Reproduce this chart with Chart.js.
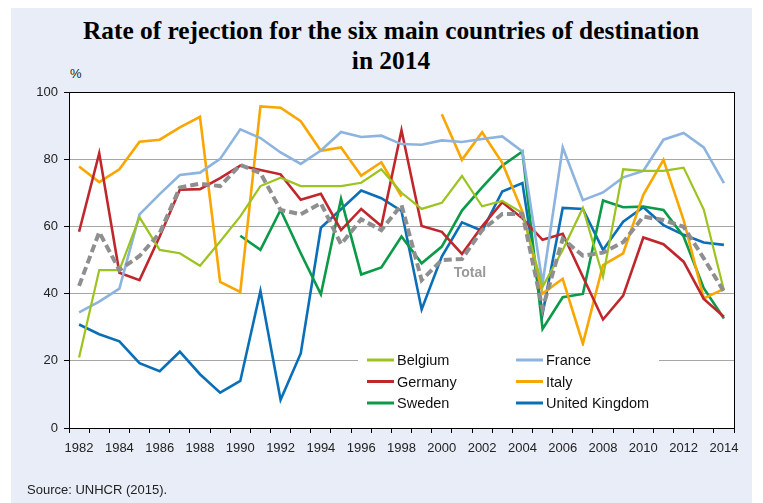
<!DOCTYPE html>
<html>
<head>
<meta charset="utf-8">
<script src="https://cdn.jsdelivr.net/npm/chart.js@4.4.1/dist/chart.umd.min.js"></script>
<style>
body { margin: 0; width: 763px; height: 503px; overflow: hidden; position: relative; background: #fff; font-family: "Liberation Sans", Arial, sans-serif; }
#panel { position: absolute; left: 11px; top: 8px; width: 741px; height: 495px; background: #e9edf8; }
#title { position: absolute; left: 0; top: 15px; width: 782px; text-align: center; font: bold 25.4px "Liberation Serif", "Times New Roman", serif; line-height: 30px; color: #000; }
#unit { position: absolute; left: 70px; top: 66px; font-size: 13px; color: #222; }
#source { position: absolute; left: 27px; top: 482px; font-size: 13px; color: #222; }
#chart { position: absolute; left: 0; top: 0; }
</style>
</head>
<body>
<div id="panel"></div>
<div id="title">Rate of rejection for the six main countries of destination<br>in 2014</div>
<div id="unit">%</div>
<canvas id="chart" width="763" height="503"></canvas>
<div id="source">Source: UNHCR (2015).</div>
<script>
// years on the x axis
var years = ['1982','1983','1984','1985','1986','1987','1988','1989','1990','1991','1992',
    '1993','1994','1995','1996','1997','1998','1999','2000','2001','2002','2003',
    '2004','2005','2006','2007','2008','2009','2010','2011','2012','2013','2014'];

// rejection rates, %
var belgium = [21, 47, 47, 62.7, 53, 52, 48.3, 55.5, 63, 72, 74.5, 72, 72, 72, 73, 77, 70,
    65.2, 67, 75, 66, 67.6, 64, 42, 53, 65.5, 45, 77, 76.5, 76.5, 77.5, 65, 41];
var france = [34.4, 37.6, 41.5, 63.6, 69.6, 75.3, 76, 80.1, 88.9, 86.3, 82, 78.6, 82.6, 88.1,
    86.6, 87, 84.5, 84.3, 85.6, 85.1, 86, 86.8, 82.3, 43, 83.5, 67.8, 70.1, 74.6, 76.5, 85.8,
    87.8, 83.5, 72.9];
var germany = [58.4, 81.8, 46.2, 44, 57, 70.9, 71.1, 74.4, 78.1, 76.8, 75.5, 67.9, 69.7, 58.9,
    65.2, 60.1, 88.6, 60.1, 58.4, 51.8, 60, 67.2, 62.4, 56, 57.8, 45, 32.3, 39.4, 56.7, 54.7,
    49.5, 38.4, 33.1];
var italy = [77.8, 73.2, 77, 85.2, 85.8, 89.5, 92.6, 43.5, 40.5, 95.7, 95.3, 91.3, 82.5, 83.5,
    75.1, 79.1, 68.9, null, 93.4, 79.8, 88, 78.9, 64.4, 40, 44.4, 25.1, 48.5, 52, 69.4, 79.8,
    61.9, 38.6, 41.4];
var sweden = [null, null, null, null, null, null, null, null, 57.2, 53, 64.9, 52, 39.8, 68.2,
    45.7, 47.8, 57, 49, 54, 64.7, 71.6, 78.1, 82.3, 29.5, 38.9, 39.9, 67.7, 65.7, 65.9, 64.9,
    57, 41.6, 32.6];
var uk = [30.8, 27.9, 25.8, 19.3, 16.9, 22.7, 16, 10.5, 14, 40.8, 8.4, 22.2, 59.6, 65.1, 70.7,
    68.4, 64.6, 35.3, 51, 61.2, 58.7, 70.4, 72.9, 34, 65.5, 65.2, 53, 61.4, 65.7, 60.4, 57.5,
    55.2, 54.5];
var total = [42.3, 58.3, 47, 51.2, 58, 71.6, 72.7, 72, 78.3, 75.9, 64.9, 63.6, 66.9, 54.7,
    62.1, 58.9, 66.4, 44, 50, 50.3, 58.9, 63.7, 63.7, 35.5, 56.3, 51.3, 52.2, 55.3, 62.9,
    61.9, 59.9, 50.5, 40.6];

var yTicks = [0, 20, 40, 60, 80, 100];

var series = [
    { label: 'Total', data: total, color: '#8f8f8f', width: 4, dash: [8, 4] },
    { label: 'Belgium', data: belgium, color: '#9cc31f', width: 2.2 },
    { label: 'France', data: france, color: '#8db3df', width: 2.6 },
    { label: 'Germany', data: germany, color: '#c0272d', width: 2.6 },
    { label: 'Italy', data: italy, color: '#f9a602', width: 2.6 },
    { label: 'Sweden', data: sweden, color: '#0b9a48', width: 2.6 },
    { label: 'United Kingdom', data: uk, color: '#0b6fb8', width: 2.6 }
];

// white plot area with black frame
var frame = {
    id: 'frame',
    beforeDraw: function(chart) {
        var a = chart.chartArea, ctx = chart.ctx;
        ctx.save();
        ctx.fillStyle = '#fff';
        ctx.fillRect(a.left, a.top, a.right - a.left, a.bottom - a.top);
        ctx.restore();
    },
    beforeDatasetsDraw: function(chart) {
        var a = chart.chartArea, ctx = chart.ctx;
        ctx.save();
        ctx.strokeStyle = '#000';
        ctx.lineWidth = 1;
        ctx.strokeRect(Math.round(a.left) + 0.5, Math.round(a.top) + 0.5,
            Math.round(a.right - a.left), Math.round(a.bottom - a.top));
        ctx.restore();
    }
};

// legend box inside the plot + "Total" label
var boxLegend = {
    id: 'boxLegend',
    afterDatasetsDraw: function(chart) {
        var ctx = chart.ctx;
        ctx.save();
        ctx.fillStyle = '#fff';
        ctx.fillRect(358, 346, 301, 72);
        var cols = [367, 516];
        var rows = [360, 381.5, 403];
        var items = series.slice(1);
        ctx.font = '14.5px "Liberation Sans", Arial, sans-serif';
        ctx.textBaseline = 'middle';
        items.forEach(function(s, i) {
            var x = cols[i % 2], y = rows[Math.floor(i / 2)];
            ctx.strokeStyle = s.color;
            ctx.lineWidth = 3;
            ctx.beginPath();
            ctx.moveTo(x, y);
            ctx.lineTo(x + 27, y);
            ctx.stroke();
            ctx.fillStyle = '#111';
            ctx.fillText(s.label, x + 30, y + 1);
        });
        var xs = chart.scales.x, ys = chart.scales.y;
        ctx.font = 'bold 14px "Liberation Sans", Arial, sans-serif';
        ctx.fillStyle = '#9a9a9a';
        ctx.fillText('Total', xs.getPixelForValue(18) + 12, ys.getPixelForValue(46));
        ctx.restore();
    }
};

new Chart(document.getElementById('chart'), {
    type: 'line',
    data: {
        labels: years,
        datasets: series.map(function(s) {
            return {
                label: s.label,
                data: s.data,
                borderColor: s.color,
                borderWidth: s.width,
                borderDash: s.dash || [],
                pointRadius: 0,
                tension: 0,
                spanGaps: false,
                fill: false
            };
        })
    },
    options: {
        responsive: false,
        animation: false,
        layout: { padding: { top: 92, right: 29, bottom: 35, left: 0 } },
        plugins: { legend: { display: false }, title: { display: false }, tooltip: { enabled: false } },
        scales: {
            x: {
                offset: true,
                afterFit: function(s) { s.height = 40; },
                grid: { display: true, drawOnChartArea: false, drawTicks: true, tickLength: 5, color: '#000', offset: true },
                border: { display: true, color: '#000' },
                ticks: {
                    autoSkip: false, maxRotation: 0, padding: 8, color: '#222',
                    font: { family: '"Liberation Sans", Arial, sans-serif', size: 13 },
                    callback: function(v, i) { return i % 2 === 0 ? years[i] : ''; }
                }
            },
            y: {
                min: 0, max: 100,
                afterFit: function(s) { s.width = 69; },
                afterBuildTicks: function(s) { s.ticks = yTicks.map(function(v) { return { value: v }; }); },
                grid: { color: '#a6a6a6', tickColor: '#000', tickLength: 5, drawTicks: true },
                border: { display: true, color: '#000' },
                ticks: {
                    padding: 6, color: '#222',
                    font: { family: '"Liberation Sans", Arial, sans-serif', size: 13 }
                }
            }
        }
    },
    plugins: [frame, boxLegend]
});
</script>
</body>
</html>
